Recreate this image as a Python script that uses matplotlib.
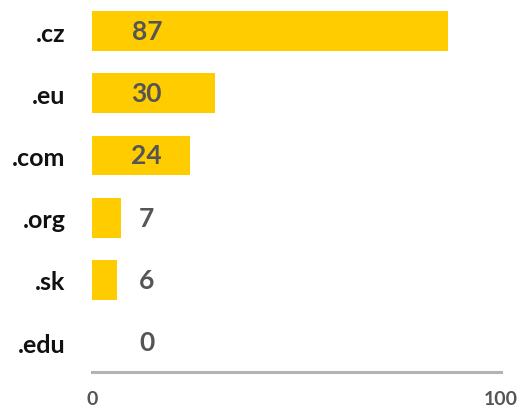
import matplotlib
matplotlib.use('Agg')
import matplotlib.pyplot as plt

# === DATA ===
domains = [".cz", ".eu", ".com", ".org", ".sk", ".edu"]
counts = [87, 30, 24, 7, 6, 0]
axis_ticks = [0, 100]

# === STYLE ===
bar_color = "#FFCC00"
value_color = "#555555"
plt.rcParams['font.family'] = ['Lato', 'DejaVu Sans']

fig = plt.figure(figsize=(5.24, 4.10), dpi=100)
ax = fig.add_axes([92 / 524, 37 / 410, 409 / 524, 373 / 410])

positions = list(range(len(domains)))
ax.barh(positions, counts, height=0.64, color=bar_color, zorder=2)

# value labels sit at a fixed spot near the start of each bar
for pos, val in zip(positions, counts):
    ax.text(13.4, pos, str(val), ha='center', va='center',
            fontsize=19, fontweight='bold', color=value_color, zorder=3)

ax.set_xlim(0, 100)
ax.set_ylim(5.48, -0.515)

ax.set_yticks(positions)
ax.set_yticklabels(domains, fontsize=18, fontweight='bold', color='#111111')
ax.set_xticks(axis_ticks)
ax.set_xticklabels([str(t) for t in axis_ticks], fontsize=14,
                   fontweight='bold', color=value_color)
ax.tick_params(axis='y', length=0, pad=19)
ax.tick_params(axis='x', length=0, pad=13)

for side in ['top', 'right', 'left']:
    ax.spines[side].set_visible(False)
ax.spines['bottom'].set_color('#b3b3b3')
ax.spines['bottom'].set_linewidth(2.2)

fig.savefig('out.png', dpi=100)
